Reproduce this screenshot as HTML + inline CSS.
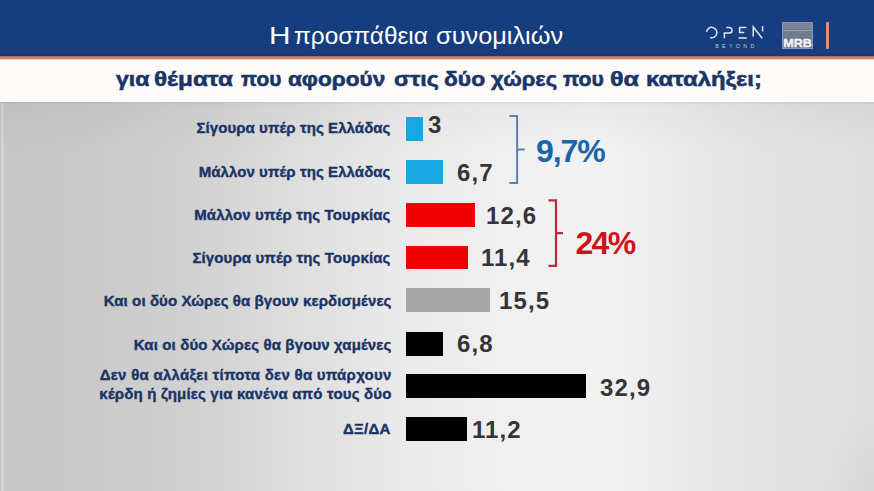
<!DOCTYPE html>
<html><head><meta charset="utf-8">
<style>
html,body{margin:0;padding:0;}
body{width:874px;height:491px;overflow:hidden;position:relative;font-family:"Liberation Sans",sans-serif;background:#dcdcdc;}
.abs{position:absolute;}
#hdr{left:0;top:0;width:874px;height:56px;background:linear-gradient(180deg,#163d7e 0,#163d7e 54px,#1f3566 55px,#2b3560 56px);}
#oline{left:0;top:56px;width:874px;height:4px;background:linear-gradient(180deg,#a57462 0,#a57462 1px,#c3886b 1px,#c3896c 3px,#efd5c6 3px);}
#wband{left:0;top:60px;width:874px;height:42px;background:#fdfcf9;}
#bg{left:0;top:102px;width:874px;height:389px;
 background:linear-gradient(180deg,rgba(0,0,0,0.06) 0,rgba(0,0,0,0) 3px),linear-gradient(180deg,rgba(0,0,0,0.035) 0,rgba(0,0,0,0) 50px),linear-gradient(90deg,#c6c6c6 0%,#c9c9c9 10%,#d1d1d1 22%,#dedede 34%,#eaeaea 46%,#f0f0f0 58%,#f2f2f2 68%,#ebebeb 78%,#e3e3e3 87%,#dedede 100%);}
.tw{position:absolute;top:22px;color:#fff;font-size:24px;white-space:nowrap;line-height:28px;transform-origin:0 0;}
.sw{position:absolute;top:64.5px;color:#1a3567;font-size:20px;font-weight:bold;white-space:nowrap;line-height:28px;-webkit-text-stroke:0.55px #1a3567;transform-origin:0 0;}
.lbl{right:483.5px;color:#1a3466;font-size:15px;font-weight:bold;white-space:nowrap;text-align:right;line-height:17px;-webkit-text-stroke:0.4px #1a3466;letter-spacing:0.08px;}
.bar{left:406px;height:24px;}
.val{color:#353535;font-size:24px;font-weight:bold;white-space:nowrap;line-height:28px;letter-spacing:1.1px;}
.pct{font-size:29px;font-weight:bold;white-space:nowrap;line-height:34px;}
</style></head>
<body>
<div id="hdr" class="abs"></div>
<div id="oline" class="abs"></div>
<div id="wband" class="abs"></div>
<div id="bg" class="abs"></div>
<div class="abs" style="left:1px;top:103px;width:3px;height:388px;background:linear-gradient(90deg,rgba(255,255,255,0.12),rgba(255,255,255,0.3) 40%,rgba(255,255,255,0.1))"></div>
<div class="abs" style="left:815px;top:405px;width:59px;height:86px;background:radial-gradient(ellipse at 100% 100%,rgba(0,0,0,0.03),rgba(0,0,0,0) 70%)"></div>
<div id="titlew"><span class="tw" style="left:269.20px;transform:scaleX(1.2407)">Η</span><span class="tw" style="left:293.80px;transform:scaleX(1.0163)">προσπάθεια</span><span class="tw" style="left:436.00px;transform:scaleX(1.0551)">συνομιλιών</span></div>

<!-- OPEN logo -->
<svg class="abs" style="left:700px;top:20px" width="70" height="32" viewBox="700 20 70 32">
 <g fill="none" stroke="#dbe4f4" stroke-width="1.5" stroke-linecap="butt">
  <path d="M706.55,31.83 A5.2,5.2 0 1 1 710.09,37.5"/>
  <path d="M724.4,38.3 V33.1 H729.2 A2.85,2.85 0 0 0 729.2,27.4 H726.3"/>
  <path d="M746.4,27.4 H739.6 V32.5 H744.3 M738.5,37.9 H746.8"/>
  <path d="M753.2,36.6 V27 L762.2,38.3 M762.6,26.1 V31.5"/>
 </g>
 <text x="736.4" y="48" text-anchor="middle" fill="#c3cee6" font-size="5.2" letter-spacing="3.4" font-family="Liberation Sans">BEYOND</text>
</svg>

<!-- MRB logo -->
<div class="abs" style="left:782px;top:22px;width:31px;height:27px;background:#6e7790;box-shadow:inset 0 0 0 1px #8796b8;"></div>
<div class="abs" style="left:783px;top:23px;width:29px;height:6px;background:#7d8596;"></div>
<div class="abs" style="left:783px;top:30px;width:29px;height:1px;background:#9aa2b4;"></div>
<div class="abs" style="left:783px;top:31px;width:29px;height:6px;background:#737b8f;"></div>
<div class="abs" style="left:780px;top:37px;width:35px;text-align:center;color:#f4f6fa;font-size:10.5px;font-weight:bold;line-height:12px;transform:scaleX(1.2);-webkit-text-stroke:0.3px #f4f6fa;">MRB</div>
<div class="abs" style="left:826px;top:22px;width:3px;height:27px;background:#dc8e79;border-radius:1px;"></div>

<div id="subw"><span class="sw" style="left:115.60px;transform:scaleX(1.1555)">για</span><span class="sw" style="left:154.40px;transform:scaleX(1.2138)">θέματα</span><span class="sw" style="left:241.00px;transform:scaleX(1.0429)">που</span><span class="sw" style="left:288.40px;transform:scaleX(1.1284)">αφορούν</span><span class="sw" style="left:394.00px;transform:scaleX(1.1611)">στις</span><span class="sw" style="left:444.00px;transform:scaleX(1.1417)">δύο</span><span class="sw" style="left:491.00px;transform:scaleX(1.0968)">χώρες</span><span class="sw" style="left:563.40px;transform:scaleX(1.0584)">που</span><span class="sw" style="left:610.20px;transform:scaleX(1.2560)">θα</span><span class="sw" style="left:645.60px;transform:scaleX(1.1900)">καταλήξει;</span></div>

<!-- labels -->
<div class="abs lbl" style="top:118.5px">Σίγουρα υπέρ της Ελλάδας</div>
<div class="abs lbl" style="top:162.7px">Μάλλον υπέρ της Ελλάδας</div>
<div class="abs lbl" style="top:206px;letter-spacing:0.14px">Μάλλον υπέρ της Τουρκίας</div>
<div class="abs lbl" style="top:249px;letter-spacing:0.12px">Σίγουρα υπέρ της Τουρκίας</div>
<div class="abs lbl" style="top:292px;letter-spacing:0.09px;right:482.5px">Και οι δύο Χώρες θα βγουν κερδισμένες</div>
<div class="abs lbl" style="top:335.5px;letter-spacing:0.13px;right:482.5px">Και οι δύο Χώρες θα βγουν χαμένες</div>
<div class="abs lbl" style="top:366px;letter-spacing:0.26px;right:482.5px">Δεν θα αλλάξει τίποτα δεν θα υπάρχουν</div>
<div class="abs lbl" style="top:384.8px;letter-spacing:0.18px;right:482.5px">κέρδη ή ζημίες για κανένα από τους δύο</div>
<div class="abs lbl" style="top:420px;letter-spacing:0.25px">ΔΞ/ΔΑ</div>

<!-- bars -->
<div class="abs bar" style="top:117px;width:17px;background:#19a7e4"></div>
<div class="abs bar" style="top:160px;width:37px;background:#19a7e4"></div>
<div class="abs bar" style="top:203px;width:69px;background:#f00000"></div>
<div class="abs bar" style="top:245.5px;width:62px;height:23.5px;background:#f00000"></div>
<div class="abs bar" style="top:288px;width:84px;background:#a7a7a7"></div>
<div class="abs bar" style="top:331.5px;width:37px;background:#000"></div>
<div class="abs bar" style="top:374px;width:180px;background:#000"></div>
<div class="abs bar" style="top:416.5px;width:61px;background:#000"></div>

<!-- values -->
<div class="abs val" style="left:428px;top:111px">3</div>
<div class="abs val" style="left:457px;top:159px">6,7</div>
<div class="abs val" style="left:486px;top:202px">12,6</div>
<div class="abs val" style="left:481px;top:244px">11,4</div>
<div class="abs val" style="left:499px;top:287px">15,5</div>
<div class="abs val" style="left:457px;top:330px">6,8</div>
<div class="abs val" style="left:600px;top:374px">32,9</div>
<div class="abs val" style="left:472px;top:416px">11,2</div>

<!-- brackets -->
<svg class="abs" style="left:500px;top:100px" width="80" height="180" viewBox="500 100 80 180">
 <path d="M509.4,115.9 H517.1 V183.1 H509.4 M517.1,149.6 H524.8" fill="none" stroke="#5f7fb3" stroke-width="2"/>
 <path d="M548.5,200.4 H556 V265.8 H548.5 M556,233.1 H563" fill="none" stroke="#bd2a3c" stroke-width="2.2"/>
</svg>

<div class="abs pct" style="left:536px;top:132.5px;color:#1a65a8;font-size:32px;letter-spacing:-1.1px;line-height:36px;">9,7%</div>
<div class="abs pct" style="left:575.5px;top:224.5px;color:#cc141d;font-size:32px;letter-spacing:-1.7px;line-height:36px;">24%</div>
</body></html>
